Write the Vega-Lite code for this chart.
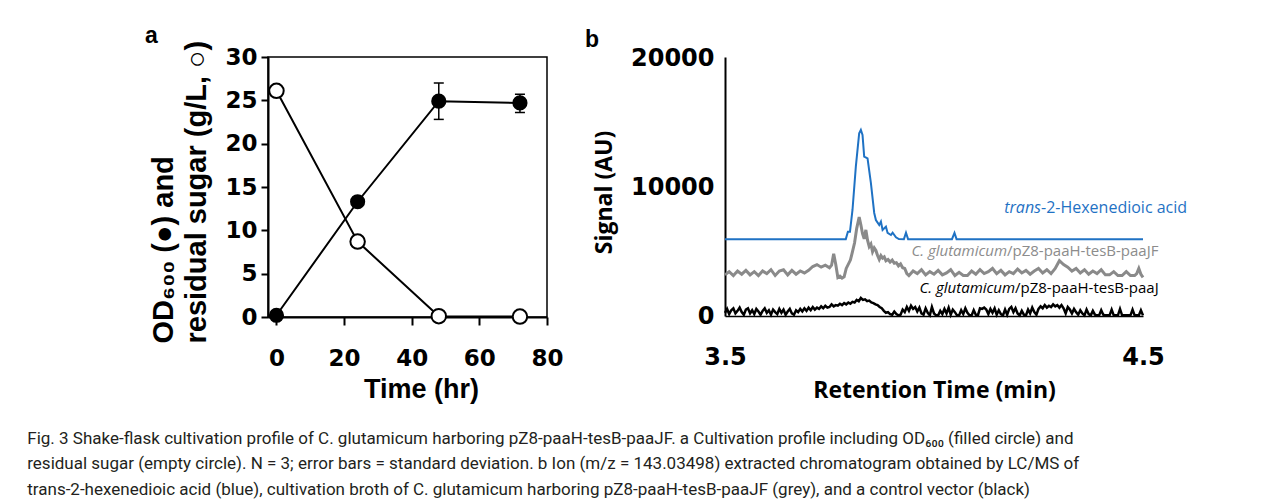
{
  "$schema": "https://vega.github.io/schema/vega-lite/v6.json",
  "background": "white",
  "padding": {"left": 27, "top": 24, "right": 5, "bottom": 5},
  "bounds": "flush",
  "spacing": 178,
  "config": {"view": {"stroke": null}, "axis": {"grid": false}},
  "title": {
    "text": [
      "Fig. 3  Shake-flask cultivation profile of C. glutamicum harboring pZ8-paaH-tesB-paaJF. a Cultivation profile including OD₆₀₀ (filled circle) and",
      "residual sugar (empty circle). N = 3; error bars = standard deviation. b Ion (m/z = 143.03498) extracted chromatogram obtained by LC/MS of",
      "trans-2-hexenedioic acid (blue), cultivation broth of C. glutamicum harboring pZ8-paaH-tesB-paaJF (grey), and a control vector (black)"
    ],
    "orient": "bottom",
    "anchor": "start",
    "frame": "bounds",
    "font": "Roboto",
    "fontSize": 17,
    "fontWeight": "normal",
    "color": "#231f20",
    "lineHeight": 25.5,
    "baseline": "top",
    "offset": 28,
    "dx": -117
  },
  "datasets": {
    "blue": [
      {"t": 3.5, "signal": 5980}, {"t": 3.789, "signal": 5980}, {"t": 3.794, "signal": 6560}, {"t": 3.799, "signal": 6560},
      {"t": 3.805, "signal": 8250}, {"t": 3.813, "signal": 11620}, {"t": 3.821, "signal": 14220}, {"t": 3.825, "signal": 14475},
      {"t": 3.829, "signal": 14085}, {"t": 3.833, "signal": 12400}, {"t": 3.841, "signal": 12270}, {"t": 3.849, "signal": 10350},
      {"t": 3.857, "signal": 8015}, {"t": 3.861, "signal": 7470}, {"t": 3.869, "signal": 7080}, {"t": 3.873, "signal": 7340},
      {"t": 3.877, "signal": 6690}, {"t": 3.885, "signal": 6950}, {"t": 3.889, "signal": 6460}, {"t": 3.897, "signal": 6300},
      {"t": 3.901, "signal": 6480}, {"t": 3.909, "signal": 6125}, {"t": 3.916, "signal": 5990}, {"t": 3.928, "signal": 5980},
      {"t": 3.933, "signal": 6480}, {"t": 3.938, "signal": 5980}, {"t": 4.043, "signal": 5980}, {"t": 4.049, "signal": 6460},
      {"t": 4.054, "signal": 5980}, {"t": 4.5, "signal": 5980}
    ],
    "grey": [
      {"t": 3.50, "signal": 3200}, {"t": 3.51, "signal": 3450}, {"t": 3.52, "signal": 3150}, {"t": 3.53, "signal": 3500},
      {"t": 3.54, "signal": 3250}, {"t": 3.55, "signal": 3550}, {"t": 3.56, "signal": 3200}, {"t": 3.57, "signal": 3450},
      {"t": 3.58, "signal": 3150}, {"t": 3.59, "signal": 3500}, {"t": 3.60, "signal": 3300}, {"t": 3.61, "signal": 3600},
      {"t": 3.62, "signal": 3150}, {"t": 3.63, "signal": 3500}, {"t": 3.64, "signal": 3600}, {"t": 3.65, "signal": 3200},
      {"t": 3.66, "signal": 3550}, {"t": 3.67, "signal": 3250}, {"t": 3.68, "signal": 3500}, {"t": 3.69, "signal": 3350},
      {"t": 3.70, "signal": 3550}, {"t": 3.71, "signal": 3850}, {"t": 3.72, "signal": 4000}, {"t": 3.73, "signal": 3800},
      {"t": 3.74, "signal": 3950}, {"t": 3.75, "signal": 3750}, {"t": 3.755, "signal": 3950}, {"t": 3.76, "signal": 4850},
      {"t": 3.765, "signal": 4000}, {"t": 3.77, "signal": 3000}, {"t": 3.775, "signal": 3100}, {"t": 3.78, "signal": 2950},
      {"t": 3.785, "signal": 3050}, {"t": 3.79, "signal": 3700}, {"t": 3.80, "signal": 4350}, {"t": 3.805, "signal": 5000},
      {"t": 3.81, "signal": 5700}, {"t": 3.815, "signal": 6800}, {"t": 3.821, "signal": 7700}, {"t": 3.825, "signal": 7100},
      {"t": 3.829, "signal": 6400}, {"t": 3.833, "signal": 6000}, {"t": 3.837, "signal": 6700}, {"t": 3.841, "signal": 5900},
      {"t": 3.845, "signal": 5400}, {"t": 3.849, "signal": 5600}, {"t": 3.853, "signal": 5000}, {"t": 3.857, "signal": 5300},
      {"t": 3.861, "signal": 5100}, {"t": 3.865, "signal": 4700}, {"t": 3.869, "signal": 4400}, {"t": 3.873, "signal": 4700},
      {"t": 3.877, "signal": 4500}, {"t": 3.881, "signal": 4600}, {"t": 3.885, "signal": 4300}, {"t": 3.89, "signal": 4400},
      {"t": 3.895, "signal": 4200}, {"t": 3.90, "signal": 4350}, {"t": 3.905, "signal": 4100}, {"t": 3.91, "signal": 4150},
      {"t": 3.915, "signal": 3900}, {"t": 3.92, "signal": 4050}, {"t": 3.925, "signal": 3750}, {"t": 3.93, "signal": 3700},
      {"t": 3.935, "signal": 3300}, {"t": 3.94, "signal": 3150}, {"t": 3.95, "signal": 3500}, {"t": 3.96, "signal": 3300},
      {"t": 3.97, "signal": 3600}, {"t": 3.98, "signal": 3200}, {"t": 3.99, "signal": 3450}, {"t": 4.00, "signal": 3250},
      {"t": 4.01, "signal": 3550}, {"t": 4.02, "signal": 3200}, {"t": 4.03, "signal": 3350}, {"t": 4.04, "signal": 3600},
      {"t": 4.05, "signal": 3150}, {"t": 4.06, "signal": 3400}, {"t": 4.07, "signal": 3150}, {"t": 4.08, "signal": 3150},
      {"t": 4.09, "signal": 3500}, {"t": 4.10, "signal": 3250}, {"t": 4.11, "signal": 3600}, {"t": 4.12, "signal": 3300},
      {"t": 4.13, "signal": 3450}, {"t": 4.14, "signal": 3700}, {"t": 4.15, "signal": 3300}, {"t": 4.16, "signal": 3550},
      {"t": 4.17, "signal": 3200}, {"t": 4.18, "signal": 3450}, {"t": 4.19, "signal": 3300}, {"t": 4.20, "signal": 3650},
      {"t": 4.21, "signal": 3350}, {"t": 4.22, "signal": 3550}, {"t": 4.23, "signal": 3250}, {"t": 4.24, "signal": 3500},
      {"t": 4.25, "signal": 3700}, {"t": 4.26, "signal": 3350}, {"t": 4.27, "signal": 3600}, {"t": 4.28, "signal": 3300},
      {"t": 4.29, "signal": 3700}, {"t": 4.30, "signal": 4300}, {"t": 4.31, "signal": 4000}, {"t": 4.32, "signal": 3800},
      {"t": 4.33, "signal": 3500}, {"t": 4.34, "signal": 3700}, {"t": 4.35, "signal": 3350}, {"t": 4.36, "signal": 3600},
      {"t": 4.37, "signal": 3250}, {"t": 4.38, "signal": 3500}, {"t": 4.39, "signal": 3300}, {"t": 4.40, "signal": 3600},
      {"t": 4.41, "signal": 3200}, {"t": 4.42, "signal": 3200}, {"t": 4.43, "signal": 3450}, {"t": 4.44, "signal": 3150},
      {"t": 4.45, "signal": 3150}, {"t": 4.46, "signal": 3450}, {"t": 4.47, "signal": 3150}, {"t": 4.48, "signal": 3150},
      {"t": 4.485, "signal": 3300}, {"t": 4.49, "signal": 3700}, {"t": 4.495, "signal": 3250}, {"t": 4.50, "signal": 3000}
    ],
    "black": [
      {"t": 3.500, "signal": 250}, {"t": 3.505, "signal": 550}, {"t": 3.510, "signal": 150}, {"t": 3.515, "signal": 450},
      {"t": 3.520, "signal": 600}, {"t": 3.525, "signal": 200}, {"t": 3.530, "signal": 400}, {"t": 3.535, "signal": 650},
      {"t": 3.540, "signal": 300}, {"t": 3.545, "signal": 100}, {"t": 3.550, "signal": 500}, {"t": 3.555, "signal": 600},
      {"t": 3.560, "signal": 200}, {"t": 3.565, "signal": 450}, {"t": 3.570, "signal": 150}, {"t": 3.575, "signal": 550},
      {"t": 3.580, "signal": 350}, {"t": 3.585, "signal": 100}, {"t": 3.590, "signal": 400}, {"t": 3.595, "signal": 600},
      {"t": 3.600, "signal": 250}, {"t": 3.605, "signal": 450}, {"t": 3.610, "signal": 100}, {"t": 3.615, "signal": 500},
      {"t": 3.620, "signal": 300}, {"t": 3.625, "signal": 150}, {"t": 3.630, "signal": 550}, {"t": 3.635, "signal": 250},
      {"t": 3.640, "signal": 500}, {"t": 3.645, "signal": 100}, {"t": 3.650, "signal": 350}, {"t": 3.655, "signal": 550},
      {"t": 3.660, "signal": 200}, {"t": 3.665, "signal": 100}, {"t": 3.670, "signal": 450}, {"t": 3.675, "signal": 300},
      {"t": 3.680, "signal": 550}, {"t": 3.685, "signal": 350}, {"t": 3.690, "signal": 600}, {"t": 3.695, "signal": 400},
      {"t": 3.700, "signal": 650}, {"t": 3.705, "signal": 450}, {"t": 3.710, "signal": 700}, {"t": 3.715, "signal": 500},
      {"t": 3.720, "signal": 650}, {"t": 3.725, "signal": 550}, {"t": 3.730, "signal": 750}, {"t": 3.735, "signal": 600},
      {"t": 3.740, "signal": 800}, {"t": 3.745, "signal": 650}, {"t": 3.750, "signal": 700}, {"t": 3.755, "signal": 900},
      {"t": 3.760, "signal": 750}, {"t": 3.765, "signal": 850}, {"t": 3.770, "signal": 800}, {"t": 3.775, "signal": 950},
      {"t": 3.780, "signal": 850}, {"t": 3.785, "signal": 1000}, {"t": 3.790, "signal": 900}, {"t": 3.795, "signal": 1050},
      {"t": 3.800, "signal": 950}, {"t": 3.805, "signal": 1100}, {"t": 3.810, "signal": 1050}, {"t": 3.815, "signal": 1250},
      {"t": 3.820, "signal": 1150}, {"t": 3.825, "signal": 1400}, {"t": 3.830, "signal": 1250}, {"t": 3.835, "signal": 1300},
      {"t": 3.840, "signal": 1150}, {"t": 3.845, "signal": 1200}, {"t": 3.850, "signal": 1050}, {"t": 3.855, "signal": 1000},
      {"t": 3.860, "signal": 900}, {"t": 3.865, "signal": 850}, {"t": 3.870, "signal": 700}, {"t": 3.875, "signal": 600},
      {"t": 3.880, "signal": 400}, {"t": 3.885, "signal": 250}, {"t": 3.890, "signal": 300}, {"t": 3.895, "signal": 150},
      {"t": 3.900, "signal": 100}, {"t": 3.905, "signal": 350}, {"t": 3.910, "signal": 150}, {"t": 3.915, "signal": 50},
      {"t": 3.920, "signal": 100}, {"t": 3.925, "signal": 500}, {"t": 3.930, "signal": 300}, {"t": 3.935, "signal": 700},
      {"t": 3.940, "signal": 400}, {"t": 3.945, "signal": 800}, {"t": 3.950, "signal": 550}, {"t": 3.955, "signal": 700},
      {"t": 3.960, "signal": 350}, {"t": 3.965, "signal": 650}, {"t": 3.970, "signal": 200}, {"t": 3.975, "signal": 100},
      {"t": 3.980, "signal": 600}, {"t": 3.985, "signal": 250}, {"t": 3.990, "signal": 50}, {"t": 3.995, "signal": 700},
      {"t": 4.000, "signal": 200}, {"t": 4.005, "signal": 50}, {"t": 4.010, "signal": 50}, {"t": 4.015, "signal": 400},
      {"t": 4.020, "signal": 150}, {"t": 4.025, "signal": 550}, {"t": 4.030, "signal": 200}, {"t": 4.035, "signal": 650},
      {"t": 4.040, "signal": 100}, {"t": 4.045, "signal": 500}, {"t": 4.050, "signal": 300}, {"t": 4.055, "signal": 50},
      {"t": 4.060, "signal": 50}, {"t": 4.065, "signal": 450}, {"t": 4.070, "signal": 150}, {"t": 4.075, "signal": 600},
      {"t": 4.080, "signal": 250}, {"t": 4.085, "signal": 50}, {"t": 4.090, "signal": 50}, {"t": 4.095, "signal": 450},
      {"t": 4.100, "signal": 100}, {"t": 4.105, "signal": 50}, {"t": 4.110, "signal": 600}, {"t": 4.115, "signal": 550},
      {"t": 4.120, "signal": 650}, {"t": 4.125, "signal": 500}, {"t": 4.130, "signal": 150}, {"t": 4.135, "signal": 550},
      {"t": 4.140, "signal": 250}, {"t": 4.145, "signal": 600}, {"t": 4.150, "signal": 100}, {"t": 4.155, "signal": 450},
      {"t": 4.160, "signal": 150}, {"t": 4.165, "signal": 50}, {"t": 4.170, "signal": 500}, {"t": 4.175, "signal": 100},
      {"t": 4.180, "signal": 550}, {"t": 4.185, "signal": 700}, {"t": 4.190, "signal": 300}, {"t": 4.195, "signal": 600},
      {"t": 4.200, "signal": 200}, {"t": 4.205, "signal": 50}, {"t": 4.210, "signal": 400}, {"t": 4.215, "signal": 100},
      {"t": 4.220, "signal": 50}, {"t": 4.225, "signal": 500}, {"t": 4.230, "signal": 200}, {"t": 4.235, "signal": 650},
      {"t": 4.240, "signal": 300}, {"t": 4.245, "signal": 100}, {"t": 4.250, "signal": 550}, {"t": 4.255, "signal": 750},
      {"t": 4.260, "signal": 600}, {"t": 4.265, "signal": 850}, {"t": 4.270, "signal": 650}, {"t": 4.275, "signal": 800},
      {"t": 4.280, "signal": 700}, {"t": 4.285, "signal": 900}, {"t": 4.290, "signal": 750}, {"t": 4.295, "signal": 850},
      {"t": 4.300, "signal": 650}, {"t": 4.305, "signal": 850}, {"t": 4.310, "signal": 600}, {"t": 4.315, "signal": 200},
      {"t": 4.320, "signal": 700}, {"t": 4.325, "signal": 500}, {"t": 4.330, "signal": 200}, {"t": 4.335, "signal": 550},
      {"t": 4.340, "signal": 300}, {"t": 4.345, "signal": 100}, {"t": 4.350, "signal": 450}, {"t": 4.355, "signal": 200},
      {"t": 4.360, "signal": 50}, {"t": 4.365, "signal": 500}, {"t": 4.370, "signal": 150}, {"t": 4.375, "signal": 50},
      {"t": 4.380, "signal": 400}, {"t": 4.385, "signal": 100}, {"t": 4.390, "signal": 50}, {"t": 4.395, "signal": 50},
      {"t": 4.400, "signal": 450}, {"t": 4.405, "signal": 100}, {"t": 4.410, "signal": 50}, {"t": 4.415, "signal": 50},
      {"t": 4.420, "signal": 50}, {"t": 4.425, "signal": 500}, {"t": 4.430, "signal": 50}, {"t": 4.435, "signal": 50},
      {"t": 4.440, "signal": 50}, {"t": 4.445, "signal": 550}, {"t": 4.450, "signal": 50}, {"t": 4.455, "signal": 50},
      {"t": 4.460, "signal": 50}, {"t": 4.465, "signal": 50}, {"t": 4.470, "signal": 50}, {"t": 4.475, "signal": 500},
      {"t": 4.480, "signal": 50}, {"t": 4.485, "signal": 50}, {"t": 4.490, "signal": 50}, {"t": 4.495, "signal": 450},
      {"t": 4.500, "signal": 50}
    ],
    "errors": [
      {"time": 48, "lo": 22.8, "hi": 27.0},
      {"time": 72, "lo": 23.6, "hi": 25.7}
    ]
  },
  "hconcat": [
    {
      "width": 279,
      "height": 260,
      "view": {"stroke": "black", "strokeWidth": 1.5},
      "title": {"text": "a", "anchor": "start", "frame": "group", "font": "Liberation Sans", "fontSize": 23, "fontWeight": "bold", "color": "black", "baseline": "alphabetic", "dx": -123, "offset": -26},
      "data": {"values": [
        {"time": 0, "od": 0.2, "sugar": 26.1},
        {"time": 24, "od": 13.3, "sugar": 8.7},
        {"time": 48, "od": 24.9, "sugar": 0.1},
        {"time": 72, "od": 24.7, "sugar": 0.05}
      ]},
      "layer": [
        {
          "mark": {"type": "line", "color": "black", "strokeWidth": 2},
          "encoding": {
            "x": {"field": "time", "type": "quantitative", "scale": {"domain": [-2.5, 80], "nice": false, "zero": false},
              "axis": {"values": [0, 20, 40, 60, 80], "title": "Time (hr)", "labelFont": "DejaVu Sans", "labelFontWeight": "bold", "labelFontSize": 23, "labelColor": "black", "labelPadding": 22, "labelFlush": false, "labelOverlap": false, "tickSize": 8, "tickWidth": 2, "tickColor": "black", "domainColor": "black", "domainWidth": 2, "titleFont": "Liberation Sans", "titleFontSize": 27, "titleFontWeight": "bold", "titleColor": "black", "titleX": 153, "titleY": 80, "titleBaseline": "alphabetic", "titleAlign": "center"}},
            "y": {"field": "od", "type": "quantitative", "scale": {"domain": [0, 30], "nice": false},
              "axis": {"values": [0, 5, 10, 15, 20, 25, 30], "title": ["OD₆₀₀ (●) and", "residual sugar (g/L, ○)"], "labelFont": "DejaVu Sans", "labelFontWeight": "bold", "labelFontSize": 23, "labelColor": "black", "labelPadding": 4, "labelFlush": false, "labelOverlap": false, "tickSize": 7, "tickWidth": 2, "tickColor": "black", "domainColor": "black", "domainWidth": 2, "titleFont": "Liberation Sans", "titleFontSize": 29, "titleFontWeight": "bold", "titleColor": "black", "titleAngle": 270, "titleAlign": "left", "titleBaseline": "alphabetic", "titleLineHeight": 33, "titleX": -96, "titleY": 286}}
          }
        },
        {
          "mark": {"type": "line", "color": "black", "strokeWidth": 2},
          "encoding": {
            "x": {"field": "time", "type": "quantitative"},
            "y": {"field": "sugar", "type": "quantitative"}
          }
        },
        {
          "data": {"name": "errors"},
          "mark": {"type": "rule", "color": "black", "strokeWidth": 1.5},
          "encoding": {
            "x": {"field": "time", "type": "quantitative"},
            "y": {"field": "lo", "type": "quantitative"},
            "y2": {"field": "hi"}
          }
        },
        {
          "data": {"name": "errors"},
          "mark": {"type": "tick", "orient": "horizontal", "size": 10, "thickness": 1.5, "color": "black", "opacity": 1},
          "encoding": {
            "x": {"field": "time", "type": "quantitative"},
            "y": {"field": "hi", "type": "quantitative"}
          }
        },
        {
          "data": {"name": "errors"},
          "mark": {"type": "tick", "orient": "horizontal", "size": 10, "thickness": 1.5, "color": "black", "opacity": 1},
          "encoding": {
            "x": {"field": "time", "type": "quantitative"},
            "y": {"field": "lo", "type": "quantitative"}
          }
        },
        {
          "mark": {"type": "point", "filled": true, "color": "black", "size": 230, "opacity": 1},
          "encoding": {
            "x": {"field": "time", "type": "quantitative"},
            "y": {"field": "od", "type": "quantitative"}
          }
        },
        {
          "mark": {"type": "point", "filled": true, "fill": "white", "stroke": "black", "strokeWidth": 2, "size": 210, "opacity": 1},
          "encoding": {
            "x": {"field": "time", "type": "quantitative"},
            "y": {"field": "sugar", "type": "quantitative"}
          }
        }
      ]
    },
    {
      "width": 418,
      "height": 259,
      "title": {"text": "b", "anchor": "start", "frame": "group", "font": "Liberation Sans", "fontSize": 23, "fontWeight": "bold", "color": "black", "baseline": "alphabetic", "dx": -140, "offset": -23},
      "layer": [
        {
          "data": {"name": "grey"},
          "mark": {"type": "line", "color": "#8a8a8a", "strokeWidth": 3},
          "encoding": {
            "x": {"field": "t", "type": "quantitative", "scale": {"domain": [3.5, 4.5], "nice": false, "zero": false},
              "axis": {"values": [3.5, 4.5], "format": ".1f", "ticks": false, "labelPadding": 29, "labelFont": "DejaVu Sans", "labelFontSize": 24, "labelFontWeight": "bold", "labelColor": "black", "labelFlush": false, "labelOverlap": false, "domainColor": "black", "domainWidth": 1.5, "title": "Retention Time (min)", "titleFont": "Open Sans", "titleFontSize": 23, "titleFontWeight": "bold", "titleColor": "black", "titleBaseline": "alphabetic", "titleY": 81}},
            "y": {"field": "signal", "type": "quantitative", "scale": {"domain": [0, 20150], "nice": false},
              "axis": {"values": [0, 10000, 20000], "format": "d", "ticks": false, "labelPadding": 11, "labelFont": "DejaVu Sans", "labelFontSize": 24, "labelFontWeight": "bold", "labelColor": "black", "labelFlush": false, "labelOverlap": false, "domainColor": "black", "domainWidth": 2, "title": "Signal (AU)", "titleFont": "Open Sans", "titleFontSize": 23, "titleFontWeight": "bold", "titleColor": "black", "titleAngle": 270, "titleAlign": "center", "titleBaseline": "alphabetic", "titleX": -114, "titleY": 135}}
          }
        },
        {
          "data": {"name": "black"},
          "mark": {"type": "line", "color": "black", "strokeWidth": 2.5},
          "encoding": {
            "x": {"field": "t", "type": "quantitative"},
            "y": {"field": "signal", "type": "quantitative"}
          }
        },
        {
          "data": {"name": "blue"},
          "mark": {"type": "line", "color": "#1f72c4", "strokeWidth": 2},
          "encoding": {
            "x": {"field": "t", "type": "quantitative"},
            "y": {"field": "signal", "type": "quantitative"}
          }
        },
        {
          "data": {"values": [{"label": "trans"}]},
          "mark": {"type": "text", "align": "right", "baseline": "alphabetic", "font": "Open Sans", "fontSize": 16, "fontStyle": "italic", "color": "#1f72c4"},
          "encoding": {
            "x": {"datum": 4.256, "type": "quantitative"},
            "y": {"datum": 8015, "type": "quantitative"},
            "text": {"field": "label"}
          }
        },
        {
          "data": {"values": [{"label": "-2-Hexenedioic acid"}]},
          "mark": {"type": "text", "align": "left", "baseline": "alphabetic", "font": "Open Sans", "fontSize": 16, "color": "#1f72c4"},
          "encoding": {
            "x": {"datum": 4.256, "type": "quantitative"},
            "y": {"datum": 8015, "type": "quantitative"},
            "text": {"field": "label"}
          }
        },
        {
          "data": {"values": [{"label": "C. glutamicum"}]},
          "mark": {"type": "text", "align": "right", "baseline": "alphabetic", "font": "Open Sans", "fontSize": 15, "fontStyle": "italic", "color": "#8c8c8c"},
          "encoding": {
            "x": {"datum": 4.1746, "type": "quantitative"},
            "y": {"datum": 4670, "type": "quantitative"},
            "text": {"field": "label"}
          }
        },
        {
          "data": {"values": [{"label": "/pZ8-paaH-tesB-paaJF"}]},
          "mark": {"type": "text", "align": "left", "baseline": "alphabetic", "font": "Open Sans", "fontSize": 15, "color": "#8c8c8c"},
          "encoding": {
            "x": {"datum": 4.1746, "type": "quantitative"},
            "y": {"datum": 4670, "type": "quantitative"},
            "text": {"field": "label"}
          }
        },
        {
          "data": {"values": [{"label": "C. glutamicum"}]},
          "mark": {"type": "text", "align": "right", "baseline": "alphabetic", "font": "Open Sans", "fontSize": 15, "fontStyle": "italic", "color": "black"},
          "encoding": {
            "x": {"datum": 4.1938, "type": "quantitative"},
            "y": {"datum": 1767, "type": "quantitative"},
            "text": {"field": "label"}
          }
        },
        {
          "data": {"values": [{"label": "/pZ8-paaH-tesB-paaJ"}]},
          "mark": {"type": "text", "align": "left", "baseline": "alphabetic", "font": "Open Sans", "fontSize": 15, "color": "black"},
          "encoding": {
            "x": {"datum": 4.1938, "type": "quantitative"},
            "y": {"datum": 1767, "type": "quantitative"},
            "text": {"field": "label"}
          }
        }
      ]
    }
  ]
}
